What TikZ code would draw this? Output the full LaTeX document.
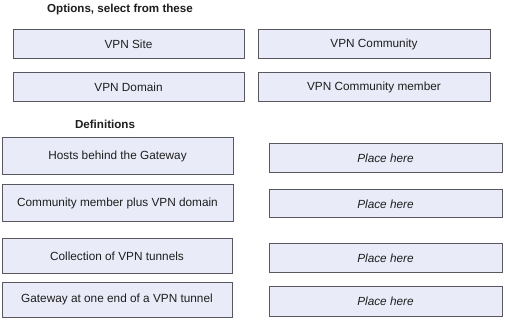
\documentclass[tikz,border=0pt]{standalone}
\usepackage{fontspec}
\setmainfont{Liberation Sans}
\definecolor{boxfill}{RGB}{233,236,248}
\definecolor{boxline}{RGB}{88,88,94}
\definecolor{txt}{RGB}{30,30,30}
\begin{document}
\begin{tikzpicture}[x=1pt,y=-1pt,
  optbox/.style={draw=boxline, fill=boxfill, line width=1pt, inner sep=0pt,
    text=txt, font=\fontsize{11.8}{14}\selectfont},
  placebox/.style={optbox, font=\fontsize{11.8}{14}\selectfont\itshape},
  heading/.style={text=txt, inner sep=0pt, font=\fontsize{11.6}{14}\selectfont\bfseries}]
\useasboundingbox[fill=white] (0,0) rectangle (506,331);
\node[heading] (opts) at (120,10) {Options, select from these};
\node[optbox, minimum width=231pt, minimum height=29pt] (site) at (128.5,44.5) {VPN Site};
\node[optbox, minimum width=232pt, minimum height=29pt] (community) at (374,44.5) {VPN Community};
\node[optbox, minimum width=231pt, minimum height=29pt] (domain) at (128.5,87.5) {VPN Domain};
\node[optbox, minimum width=232pt, minimum height=29pt] (member) at (374,87.5) {VPN Community member};
\node[heading] (defs) at (105,124) {Definitions};
\node[optbox, minimum width=231pt, minimum height=37pt] (hosts) at (117.5,156.5) {Hosts behind the Gateway};
\node[optbox, minimum width=231pt, minimum height=37pt] (cmplus) at (117.5,203.5) {Community member plus VPN domain};
\node[optbox, minimum width=230pt, minimum height=34pt] (collection) at (117,256) {Collection of VPN tunnels};
\node[optbox, minimum width=230pt, minimum height=35pt] (gateway) at (117,299.5) {Gateway at one end of a VPN tunnel};
\node[placebox, minimum width=233pt, minimum height=29pt] (place1) at (385.5,158.5) {Place here};
\node[placebox, minimum width=233pt, minimum height=28pt] (place2) at (385.5,204) {Place here};
\node[placebox, minimum width=233pt, minimum height=28pt] (place3) at (385.5,258) {Place here};
\node[placebox, minimum width=233pt, minimum height=30pt] (place4) at (385.5,301) {Place here};
\end{tikzpicture}
\end{document}
